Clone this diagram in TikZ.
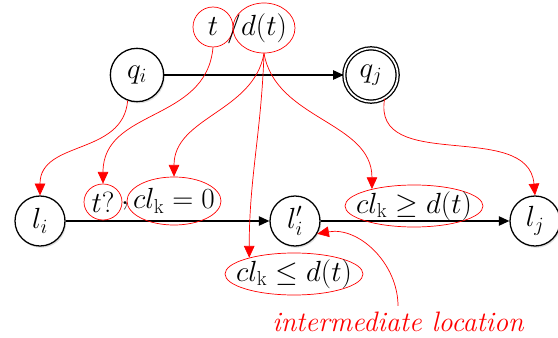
\documentclass[tikz,border=0pt]{standalone}
\usepackage{amsmath,amssymb}
\usepackage{tikz}
\usetikzlibrary{arrows.meta,shapes.geometric,shadows}

\tikzset{
  state/.style={circle,draw,line width=1.1pt,fill=white,minimum size=1.5cm,inner sep=0pt,
    drop shadow={opacity=0.25,shadow xshift=1pt,shadow yshift=-1.5pt}},
  mark ell/.style={ellipse,draw=red,semithick,inner sep=0pt},
  edge/.style={-{Triangle[length=9pt,width=8pt]},line width=1.1pt},
  hint/.style={-{Triangle[length=10pt,width=9pt]},red,semithick},
}

\begin{document}
\begin{tikzpicture}[x=0.03cm,y=-0.03cm,font=\fontsize{23}{27}\selectfont]
  \useasboundingbox (0,0) rectangle (558,338);
  % automaton
  \node[state,minimum size=1.6cm] (qi) at (137,75) {$q_i$};
  \node[state,minimum size=1.6cm,double,double distance=1.5pt] (qj) at (371,75) {$q_j$};
  \draw[edge] (qi) -- (qj);
  % timed locations
  \node[state] (li) at (40,221) {$l_i$};
  \node[state] (lip) at (295,221) {$l_i'$};
  \node[state] (lj) at (535,221) {$l_j$};
  \draw[edge] (li) -- (lip);
  \draw[edge] (lip) -- (lj);
  % labels
  \node[mark ell,minimum width=1.2cm,minimum height=1.2cm] (tt) at (213,27) {$t$};
  \node (sl) at (234,29) {$/$};
  \node[mark ell,minimum width=1.86cm,minimum height=1.5cm,inner xsep=-1pt] (dt) at (264,28) {$d(t)$};
  \node[mark ell,minimum width=1.14cm,minimum height=1.08cm] (tq) at (103,202) {$t?$};
  \node (cm) at (125,206) {$,$};
  \node[mark ell,minimum width=2.82cm,minimum height=1.44cm,inner xsep=-7pt] (cz) at (174,201) {$cl_\mathrm{k}=0$};
  \node[mark ell,minimum width=4.14cm,minimum height=1.26cm,inner xsep=-8pt] (cge) at (414,206) {$cl_\mathrm{k}\geq d(t)$};
  \node[mark ell,minimum width=4.14cm,minimum height=1.26cm,inner xsep=-8pt] (cle) at (294,274) {$cl_\mathrm{k}\leq d(t)$};
  \node[red,font=\fontsize{24}{28}\selectfont\itshape] (im) at (398,322) {intermediate location};
  % mapping
  \draw[hint] (qi.250) to[out=-95,in=90,looseness=1.1] (li.north);
  \draw[hint] (tt.south) to[out=-95,in=90,looseness=1.1] (tq.north);
  \draw[hint] (dt.south) to[out=-100,in=90] (cz.north);
  \draw[hint] (dt.south) to[out=-92,in=90] (cle.160);
  \draw[hint] (dt.south) to[out=-80,in=90] (cge.158);
  \draw[hint] (qj.300) to[out=-100,in=95,looseness=1.1] (lj.north);
  \draw[hint] (im.north) ++(0,-2) to[out=90,in=10] (lip.-30);
\end{tikzpicture}
\end{document}
